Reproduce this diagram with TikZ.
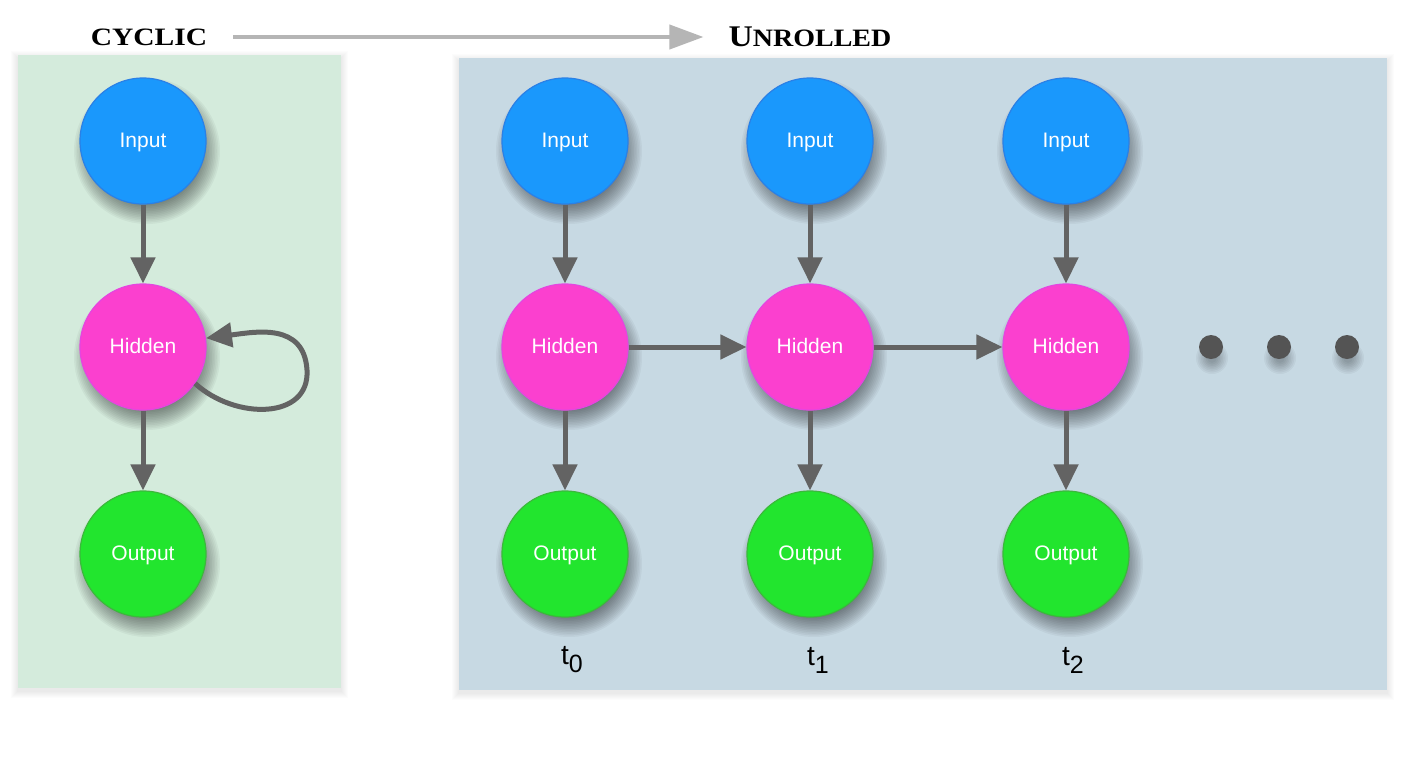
\documentclass[tikz,border=0pt]{standalone}
\usepackage{fontspec}
\setmainfont{Liberation Sans}
\newfontfamily\titlefont{Liberation Serif}
\usetikzlibrary{arrows.meta}
\definecolor{pgreen}{HTML}{D4EBDC}
\definecolor{pblue}{HTML}{C7D9E3}
\definecolor{cin}{HTML}{1A98FC}
\definecolor{cinb}{HTML}{2A80E6}
\definecolor{chid}{HTML}{FB40CF}
\definecolor{chidb}{HTML}{E545E0}
\definecolor{cout}{HTML}{22E52E}
\definecolor{coutb}{HTML}{3CB83C}
\definecolor{arrc}{HTML}{636363}
\definecolor{titarr}{HTML}{B5B5B5}
\tikzset{
  unit/.style={circle, minimum size=126pt, inner sep=0pt, line width=1.2pt, text=white,
    font=\fontsize{21}{24}\selectfont, text height=13pt, text depth=0pt},
  innode/.style={unit, fill=cin, draw=cinb},
  hidnode/.style={unit, fill=chid, draw=chidb},
  outnode/.style={unit, fill=cout, draw=coutb},
  arr/.style={draw=arrc, line width=5pt, -{Triangle[length=26pt,width=24pt]}},
  dotnode/.style={circle, fill=arrc!85!black, minimum size=24pt, inner sep=0pt},
  tlabel/.style={font=\fontsize{28}{30}\selectfont, inner sep=0pt},
  title/.style={inner sep=0pt, font=\titlefont\bfseries},
  shadowlayer/.style={fill=black, opacity=0.04}
}
\newcommand{\tsub}[2]{#1\raisebox{-8pt}{\fontsize{25}{26}\selectfont #2}}
\newcommand{\circshadow}[3]{\foreach \k in {0,...,13}{\fill[shadowlayer] ({#1+4},{#2+10}) circle ({#3+10-1.6*\k});}}
\newcommand{\panelshadow}[4]{\foreach \k in {1,...,7}{\fill[black, opacity=0.012] ({#1-\k},{#2-\k+3}) rectangle ({#3+\k},{#4+\k+3});}}
\begin{document}
\begin{tikzpicture}[x=1pt,y=-1pt]
\useasboundingbox (0,0) rectangle (1422,761);
\fill[white] (0,0) rectangle (1422,761);
% panels
\panelshadow{18}{55}{341}{688}
\panelshadow{459}{58}{1387}{690}
\fill[pgreen] (18,55) rectangle (341,688);
\fill[pblue] (459,58) rectangle (1387,690);
% titles
\node[title] (cyc) at (149,37) {\scalebox{1.18}[1]{\fontsize{25}{28}\selectfont CYCLIC}};
\node[title] (unr) at (810,37) {\scalebox{1.12}[1]{{\fontsize{30}{30}\selectfont U}{\fontsize{25}{28}\selectfont NROLLED}}};
\draw[draw=titarr, line width=4pt, -{Triangle[length=34pt,width=24pt]}, shorten <=26pt, shorten >=25pt] (cyc.east) -- (unr.west);
% shadows
\foreach \x in {143,565,810,1066}{
  \circshadow{\x}{141}{63}
  \circshadow{\x}{347}{63}
  \circshadow{\x}{554}{63}
}
\foreach \x in {1211,1279,1347}{
  \foreach \k in {0,...,7}{\fill[black, opacity=0.04] ({\x+1},358) circle ({16-1.6*\k});}
}
% cyclic column
\node[innode] (in0) at (143,141) {Input};
\node[hidnode] (h0) at (143,347) {Hidden};
\node[outnode] (o0) at (143,554) {Output};
\draw[arr] (in0) -- (h0);
\draw[arr] (h0) -- (o0);
\draw[arr] (h0.-35) .. controls (235,420) and (310,420) .. (307,370) .. controls (304,322) and (255,332) .. (h0.8);
% unrolled columns
\foreach \i/\x in {1/565,2/810,3/1066}{
  \node[innode] (in\i) at (\x,141) {Input};
  \node[hidnode] (h\i) at (\x,347) {Hidden};
  \node[outnode] (o\i) at (\x,554) {Output};
  \draw[arr] (in\i) -- (h\i);
  \draw[arr] (h\i) -- (o\i);
}
\draw[arr] (h1) -- (h2);
\draw[arr] (h2) -- (h3);
\node[tlabel] (t0) at (572,660) {\tsub{t}{0}};
\node[tlabel] (t1) at (818,660) {\tsub{t}{1}};
\node[tlabel] (t2) at (1073,660) {\tsub{t}{2}};
% dots
\node[dotnode] (d1) at (1211,347) {};
\node[dotnode] (d2) at (1279,347) {};
\node[dotnode] (d3) at (1347,347) {};
\end{tikzpicture}
\end{document}
